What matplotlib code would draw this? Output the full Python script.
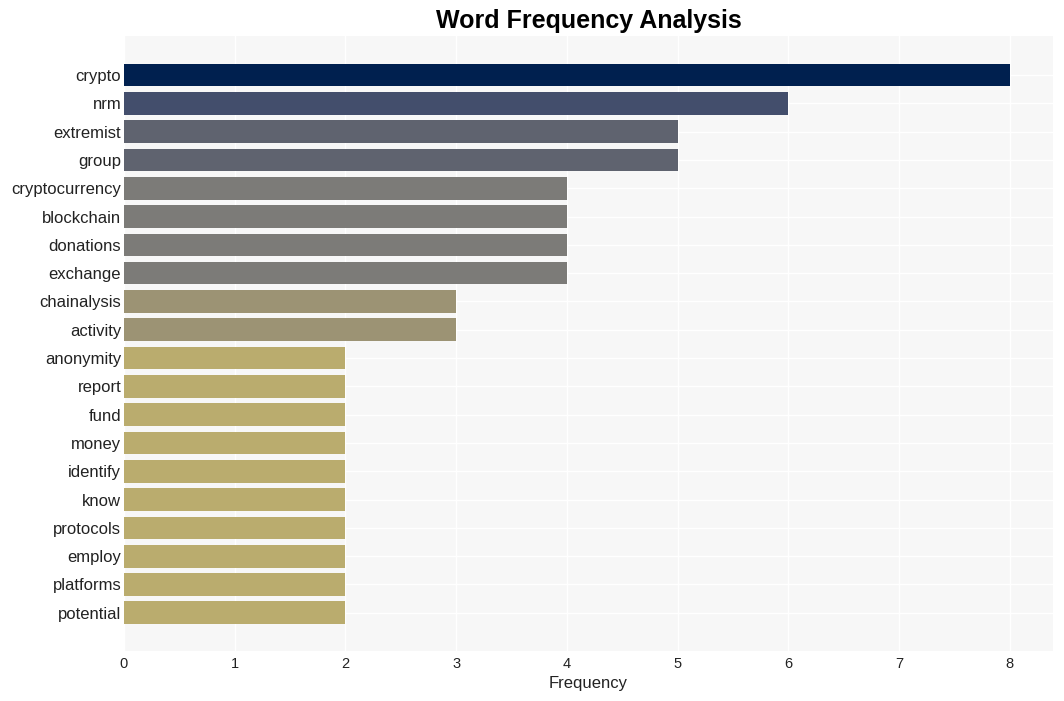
import matplotlib
matplotlib.use("Agg")
import matplotlib.pyplot as plt

plt.rcParams["font.family"] = ["Liberation Sans", "DejaVu Sans"]

words = ["crypto", "nrm", "extremist", "group", "cryptocurrency", "blockchain",
         "donations", "exchange", "chainalysis", "activity", "anonymity", "report",
         "fund", "money", "identify", "know", "protocols", "employ", "platforms", "potential"]
freqs = [8, 6, 5, 5, 4, 4, 4, 4, 3, 3, 2, 2, 2, 2, 2, 2, 2, 2, 2, 2]

color_by_value = {8: "#00204F", 6: "#434E6C", 5: "#5F636F", 4: "#7C7B78",
                  3: "#9C9374", 2: "#BAAC6E"}
colors = [color_by_value[v] for v in freqs]

fig = plt.figure(figsize=(10.64, 7.01), dpi=100)
ax = fig.add_axes([124/1064, 1-651/701, (1053-124)/1064, (651-36)/701])
ax.set_facecolor("#F7F7F7")
for s in ax.spines.values():
    s.set_visible(False)

y = list(range(len(words)))
ax.barh(y, freqs, height=0.8, color=colors, zorder=2)
ax.set_yticks(y)
ax.set_yticklabels(words, fontsize=12, color="#222222")
ax.set_ylim(len(words) - 1 + 1.35, -1.38)
ax.set_xlim(0, 8.39)
ax.set_xticks(range(0, 9))
ax.tick_params(axis="x", labelsize=10.5, colors="#222222", length=0, pad=4)
ax.tick_params(axis="y", length=0, pad=2)
ax.grid(True, color="white", linewidth=1.0, zorder=0)
ax.set_axisbelow(True)
ax.set_xlabel("Frequency", fontsize=12, color="#222222", labelpad=4)
fig.text((124+1053)/2/1064, 1-21/701, "Word Frequency Analysis", ha="center", va="center",
         fontsize=18, fontweight="bold")
fig.savefig("out.png", dpi=100, facecolor="white")
